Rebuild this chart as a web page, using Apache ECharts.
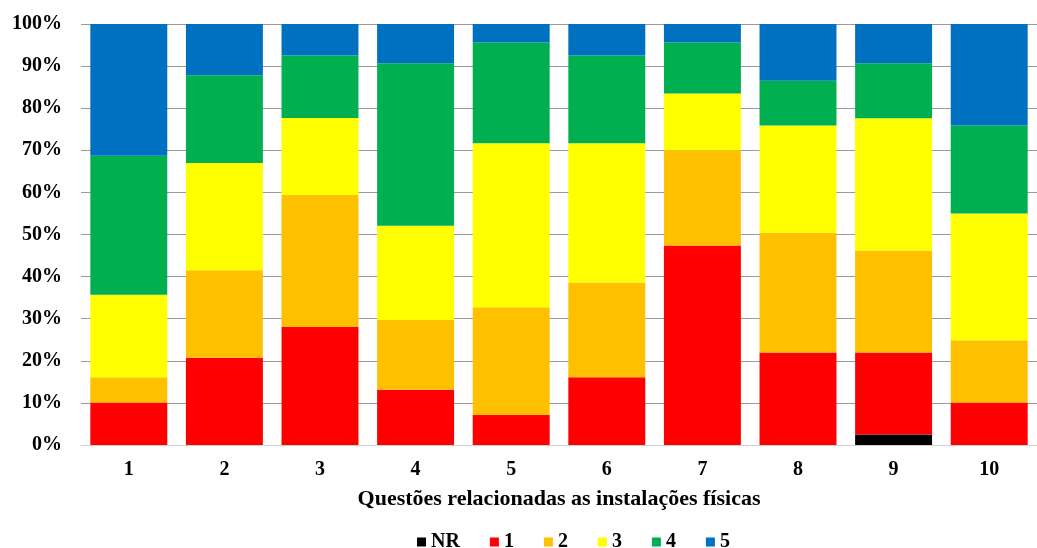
<!DOCTYPE html>
<html>
<head>
<meta charset="utf-8">
<script src="https://cdn.jsdelivr.net/npm/echarts@6/dist/echarts.min.js"></script>
<style>
  html, body { margin: 0; padding: 0; background: #fff; }
  #chart { width: 1037px; height: 548px; }
</style>
</head>
<body>
<div id="chart"></div>
<script>
// Questions (x axis)
const categories = ['1', '2', '3', '4', '5', '6', '7', '8', '9', '10'];

// Share of answers per score, in percent
const nrValues    = [0, 0, 0, 0, 0, 0, 0, 0, 2.5, 0];
const score1      = [10.1, 20.7, 28.0, 13.1, 7.1, 16.1, 47.4, 22.0, 19.5, 10.1];
const score2      = [6.0, 20.8, 31.4, 16.6, 25.6, 22.5, 22.6, 28.4, 24.2, 14.8];
const score3      = [19.6, 25.5, 18.3, 22.4, 39.0, 33.1, 13.5, 25.5, 31.4, 30.1];
const score4      = [33.0, 20.8, 14.8, 38.6, 23.9, 20.8, 12.1, 10.6, 13.1, 20.9];
const score5      = [31.3, 12.2, 7.5, 9.3, 4.4, 7.5, 4.4, 13.5, 9.3, 24.1];

const seriesNames = ['NR', '1', '2', '3', '4', '5'];
const seriesData  = [nrValues, score1, score2, score3, score4, score5];
const seriesColors = ['#000000', '#FF0000', '#FFC000', '#FFFF00', '#00B050', '#0070C0'];

const font = '"Liberation Serif", "Times New Roman", serif';

const chart = echarts.init(document.getElementById('chart'), null, { renderer: 'canvas' });

chart.setOption({
  animation: false,
  backgroundColor: '#ffffff',
  grid: { left: 81, width: 969, top: 24, bottom: 103, containLabel: false },
  legend: {
    data: seriesNames,
    left: 412,
    top: 527,
    itemWidth: 9,
    itemHeight: 9,
    itemGap: 30,
    icon: 'rect',
    textStyle: { fontFamily: font, fontWeight: 'bold', fontSize: 20, color: '#000' }
  },
  xAxis: {
    type: 'category',
    data: categories,
    name: 'Questões relacionadas as instalações físicas',
    nameLocation: 'middle',
    nameGap: 43,
    nameTextStyle: { fontFamily: font, fontWeight: 'bold', fontSize: 22, color: '#000' },
    axisLine: { lineStyle: { color: '#d0d0d0', width: 1 } },
    axisTick: { show: false },
    axisLabel: { fontFamily: font, fontWeight: 'bold', fontSize: 20, color: '#000', margin: 15 }
  },
  yAxis: {
    type: 'value',
    min: 0,
    max: 100,
    interval: 10,
    axisLine: { show: false },
    axisTick: { show: false },
    axisLabel: { formatter: '{value}%', fontFamily: font, fontWeight: 'bold', fontSize: 20, color: '#000', margin: 19 },
    splitLine: { lineStyle: { color: '#9a9a9a', width: 1.2 } }
  },
  series: seriesNames.map((name, i) => ({
    name: name,
    type: 'bar',
    stack: 'total',
    barCategoryGap: '19.5%',
    data: seriesData[i],
    itemStyle: { color: seriesColors[i] }
  }))
});
</script>
</body>
</html>
